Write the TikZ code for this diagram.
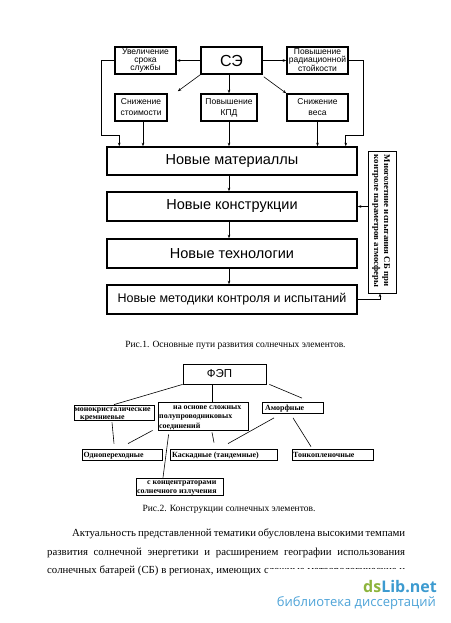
\documentclass[tikz,border=0pt]{standalone}
\usepackage{fontspec}
\setmainfont{Liberation Serif}
\newfontfamily\arialf{Liberation Sans}
\newfontfamily\wmfont{Open Sans}
\usetikzlibrary{arrows.meta,calc}
\definecolor{wmgreen}{HTML}{8DB43C}
\definecolor{wmblue}{HTML}{3D9BD0}
\definecolor{wmblue2}{HTML}{4DA3D8}
\begin{document}
\begin{tikzpicture}[x=1pt,y=-1pt,
  bx/.style={draw, line width=1.5pt, inner sep=0pt, align=center, minimum height=27pt, font=\arialf\fontsize{8.5}{8}\selectfont},
  bxtwo/.style={bx, font=\arialf\fontsize{8.5}{11}\selectfont},
  bigbx/.style={draw, line width=1.5pt, minimum width=250pt, minimum height=29pt, inner sep=0pt, font=\arialf\fontsize{14.5}{16}\selectfont},
  conn/.style={line width=0.6pt},
  arr/.style={conn, -{Stealth[length=3.5pt,width=2.6pt]}},
  boxb/.style={draw, line width=0.8pt, inner sep=0pt},
  tb/.style={font=\bfseries\fontsize{7.9}{8}\selectfont, inner sep=0pt, anchor=base west},
  capt/.style={font=\fontsize{9.5}{11}\selectfont, inner sep=0pt},
  para/.style={font=\fontsize{10.8}{12}\selectfont, inner sep=0pt, anchor=west}]
\useasboundingbox (0,0) rectangle (450,623);
\fill[white] (0,0) rectangle (450,623);
% ---------- Fig. 1 ----------
\node[bx, minimum width=61pt] (se) at (231.5,60.5) {\fontsize{16}{18}\selectfont СЭ};
\node[bx, minimum width=61pt] (life) at (145.5,60.5) {Увеличение\\срока\\службы};
\node[bx, minimum width=61pt] (rad) at (317.5,60.5) {Повышение\\радиационной\\стойкости};
\node[bxtwo, minimum width=52pt] (cost) at (141,107.5) {Снижение\\стоимости};
\node[bxtwo, minimum width=56pt] (kpd) at (229,107.5) {Повышение\\КПД};
\node[bxtwo, minimum width=61pt] (wt) at (317.5,107.5) {Снижение\\веса};
\node[bigbx, minimum height=28pt] (mat) at (232,161) {Новые материаллы};
\node[bigbx] (kon) at (232,206.5) {Новые конструкции};
\node[bigbx] (tech) at (232,253.5) {Новые технологии};
\node[bigbx, font=\arialf\fontsize{12.5}{14}\selectfont] (met) at (232,299.5) {Новые методики контроля и испытаний};
\node[draw, line width=1pt, minimum width=28pt, minimum height=142pt, inner sep=0pt] (vert) at (382,222) {};
\node[rotate=-90, font=\bfseries\fontsize{8.8}{10}\selectfont, align=left, inner sep=0pt] (vertt) at (381,221)
  {Многолетние испытания СБ при\\контроле параметров атмосферы};
\draw[arr] (se.west) -- (life.east);
\draw[arr] (se.east) -- (rad.west);
\draw[arr] (se.south west) -- ($(cost.north east)+(10,-2)$);
\draw[arr] ($(se.south east)+(1,2)$) -- (wt.north west);
\draw[arr] (kpd.north |- se.south) -- (kpd.north);
\draw[arr] ($(cost.south)+(2,0)$) -- ($(cost.south |- mat.north)+(2,0)$);
\draw[arr] (kpd.south) -- (kpd.south |- mat.north);
\draw[arr] (wt.south) -- (wt.south |- mat.north);
\draw[arr] (life.west) -- ++(-13,0) |- ($(mat.north west)+(13,-11)$) -- ($(mat.north west)+(13,0)$);
\draw[arr] (rad.east) -- ++(15,0) |- ($(mat.north east)+(-12,-11)$) -- ($(mat.north east)+(-12,0)$);
\draw[arr] ($(mat.south)+(-3,0)$) -- ($(kon.north)+(-3,0)$);
\draw[arr] ($(kon.south)+(-3,0)$) -- ($(tech.north)+(-3,0)$);
\draw[arr] ($(tech.south)+(-3,0)$) -- ($(met.north)+(-3,0)$);
\draw[arr] (vert.west |- kon.east) -- (kon.east);
\draw[arr] (met.east) -| ($(vert.south)+(-2,0)$);
\node[capt] (cap1) at (235.5,345) {Рис.1. Основные пути развития солнечных элементов.};
% ---------- Fig. 2 ----------
\node[boxb, minimum width=83pt, minimum height=20pt, font=\arialf\fontsize{11.5}{12}\selectfont] (fep) at (224.5,374) {ФЭП\kern10pt};
\node[boxb, minimum width=80pt, minimum height=15pt] (mono) at (114,412.5) {};
\node[tb] (monot1) at (74.5,411.5) {монокристалические};
\node[tb] (monot2) at (80,419) {кремниевые};
\node[boxb, minimum width=90pt, minimum height=28pt] (osn) at (203,416) {};
\node[tb] (osnt1) at (173,409.7) {на основе сложных};
\node[tb] (osnt2) at (159,418.7) {полупроводниковых};
\node[tb] (osnt3) at (159,428) {соединений};
\node[boxb, minimum width=61pt, minimum height=11pt] (amo) at (292.5,408) {};
\node[tb] (amot) at (265,410.5) {Аморфные};
\node[boxb, minimum width=80pt, minimum height=11pt] (odn) at (122,454.5) {};
\node[tb] (odnt) at (83.5,457) {Однопереходные};
\node[boxb, minimum width=107pt, minimum height=11pt] (kas) at (223.5,454.5) {};
\node[tb] (kast) at (172,457) {Каскадные (тандемные)};
\node[boxb, minimum width=81pt, minimum height=11pt] (ton) at (332.5,454.5) {};
\node[tb] (tont) at (293,457) {Тонкопленочные};
\node[boxb, minimum width=87pt, minimum height=17pt] (konc) at (179.5,486.5) {};
\node[tb] (konct1) at (147,484.7) {с концентраторами};
\node[tb] (konct2) at (137,493.7) {солнечного излучения};
\draw[conn] (fep.south west) -- (mono.north);
\draw[conn] ($(fep.south)+(-12.5,0)$) -- ($(osn.north)+(9,0)$);
\draw[conn] ($(fep.south east)+(3,0)$) -- ($(amo.north)+(9.5,-4)$);
\draw[conn] ($(mono.south)+(-2,2)$) -- ($(odn.north)+(-8,-5)$);
\draw[conn] ($(osn.south west)+(-5,0)$) -- ($(odn.north)+(6,-5)$);
\draw[conn] ($(osn.south west)+(11,4)$) -- ($(konc.north)+(-16.5,0)$);
\draw[conn] ($(osn.south)+(9,2)$) -- ($(kas.north)+(-9.5,-6)$);
\draw[conn] ($(amo.south)+(-18.5,4)$) -- ($(kas.north)+(4.5,-5)$);
\draw[conn] ($(amo.south)+(0.5,4)$) -- ($(ton.north)+(-21.5,-2)$);
\node[capt] (cap2) at (229,509) {Рис.2. Конструкции солнечных элементов.};
% ---------- text ----------
\node[para] (p1) at (72,534) {\makebox[333pt][s]{Актуальность представленной тематики обусловлена высокими темпами}};
\node[para] (p2) at (47,553) {\makebox[358pt][s]{развития солнечной энергетики и расширением географии использования}};
\node[para] (p3) at (47,571) {\makebox[358pt][s]{солнечных батарей (СБ) в регионах, имеющих сложные метеорологические и}};
\fill[white] (268,568.5) rectangle (412,578);
\node[font=\wmfont\bfseries\fontsize{16}{18}\selectfont, anchor=base east, inner sep=0pt] (wm1) at (437,592) {\textcolor{wmgreen}{ds}\textcolor{wmblue}{Lib.net}};
\node[font=\wmfont\fontsize{13}{15}\selectfont, text=wmblue2, anchor=base east, inner sep=0pt] (wm2) at (436,606) {библиотека диссертаций};
\end{tikzpicture}
\end{document}
